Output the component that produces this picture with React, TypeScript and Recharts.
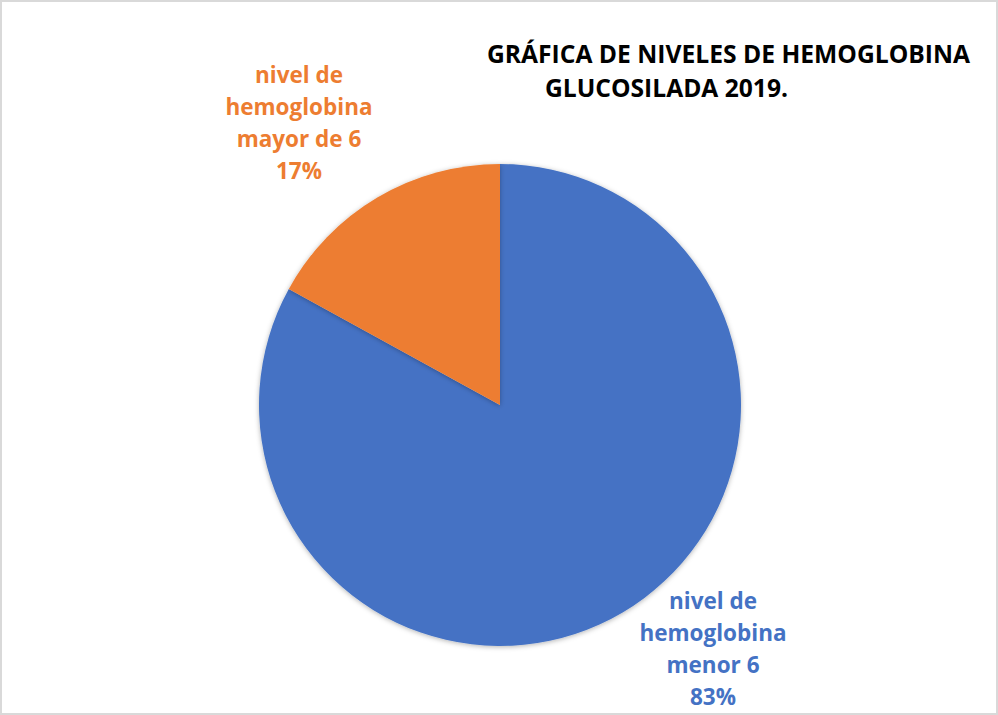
import { PieChart, Pie, Cell } from 'recharts';

const CATEGORIES = ['nivel de hemoglobina menor 6', 'nivel de hemoglobina mayor de 6'];
const VALUES = [83, 17];
const LABEL_LINES = [
    ['nivel de', 'hemoglobina', 'menor 6', '83%'],
    ['nivel de', 'hemoglobina', 'mayor de 6', '17%'],
];
const TITLE_LINES = ['GRÁFICA DE NIVELES DE HEMOGLOBINA', 'GLUCOSILADA 2019.'];
const COLORS = ['#4472C4', '#ED7D31'];

// label block centre, relative to the pie centre
const LABEL_OFFSETS = [
    { dx: 213, dy: 243 },
    { dx: -201, dy: -283 },
];

const data = CATEGORIES.map((name, i) => ({ name, value: VALUES[i] }));

const FONT = '"Open Sans", sans-serif';

const renderLabel = (props: any) => {
    const { cx, cy, index } = props;
    const off = LABEL_OFFSETS[index];
    const lines = LABEL_LINES[index];
    const lineH = 32;
    const startY = cy + off.dy - ((lines.length - 1) * lineH) / 2;
    return (
        <text
            x={cx + off.dx}
            y={startY}
            textAnchor="middle"
            dominantBaseline="central"
            fill={COLORS[index]}
            style={{ fontFamily: FONT, fontWeight: 700, fontSize: 22.5 }}
        >
            {lines.map((l, i) => (
                <tspan key={i} x={cx + off.dx} y={startY + i * lineH}>{l}</tspan>
            ))}
        </text>
    );
};

export default function App() {
    return (
        <div style={{ position: 'absolute', left: 0, top: 0, width: 998, height: 715, background: '#fff' }}>
            <div style={{ position: 'absolute', left: 0, top: 0, width: 994, height: 711, border: '2px solid #d9d9d9' }} />
            <PieChart width={998} height={715} margin={{ top: 0, right: 0, bottom: 0, left: 0 }}
                style={{ position: 'absolute', left: 0, top: 0 }}>
                <defs>
                    <filter id="pieShadow" x="-10%" y="-10%" width="120%" height="120%">
                        <feDropShadow dx="0" dy="1" stdDeviation="2.5" floodColor="#000" floodOpacity="0.3" />
                    </filter>
                </defs>
                <text x={728.5} y={63} textAnchor="middle" textLength={483} lengthAdjust="spacingAndGlyphs"
                    style={{ fontFamily: FONT, fontWeight: 700, fontSize: 25, fill: '#000' }}>
                    {TITLE_LINES[0]}
                </text>
                <text x={666.5} y={97} textAnchor="middle" textLength={243} lengthAdjust="spacingAndGlyphs"
                    style={{ fontFamily: FONT, fontWeight: 700, fontSize: 25, fill: '#000' }}>
                    {TITLE_LINES[1]}
                </text>
                <Pie
                    data={data}
                    dataKey="value"
                    nameKey="name"
                    cx={500}
                    cy={405}
                    outerRadius={241}
                    startAngle={90}
                    endAngle={-270}
                    stroke="none"
                    labelLine={false}
                    label={renderLabel}
                    isAnimationActive={false}
                    style={{ filter: 'url(#pieShadow)' }}
                >
                    {data.map((entry, index) => (
                        <Cell key={`cell-${index}`} fill={COLORS[index]} />
                    ))}
                </Pie>
            </PieChart>
        </div>
    );
}
